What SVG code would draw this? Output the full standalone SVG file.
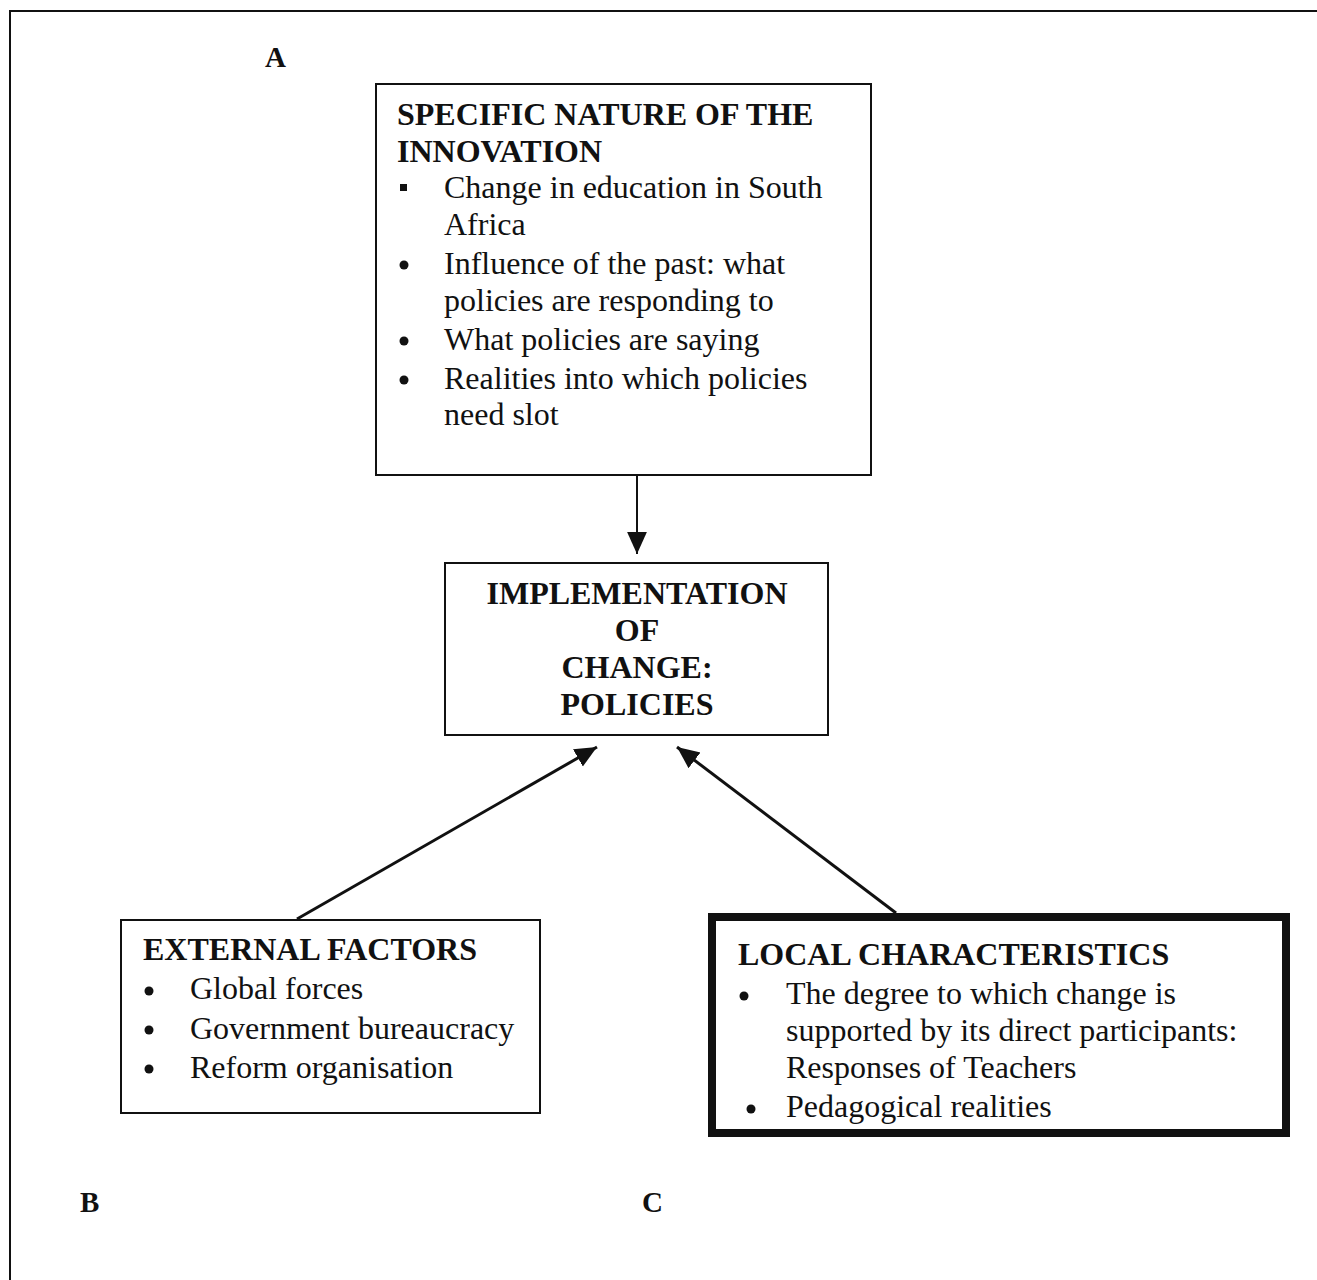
<svg xmlns="http://www.w3.org/2000/svg" width="1317" height="1280" viewBox="0 0 1317 1280">
<style>
.t{font-family:"Liberation Serif","Times New Roman",serif;font-size:32px;fill:#111}
.b{font-weight:bold}
.lbl{font-size:29px}
.box{fill:#fff;stroke:#111;stroke-width:2}
.thick{stroke-width:8}
.ln{stroke:#111;stroke-width:3;fill:none}
.bul{fill:#111}
</style>
<defs>
<marker id="ah2" viewBox="0 0 10 10" refX="10" refY="5" markerWidth="22" markerHeight="22" markerUnits="userSpaceOnUse" orient="auto">
<path d="M0,0.5 L10,5 L0,9.5 Z" fill="#111"/>
</marker>
</defs>
<rect width="1317" height="1280" fill="#fff"/>
<path d="M10,1280 L10,11 L1317,11" fill="none" stroke="#111" stroke-width="2"/>
<text class="t b lbl" x="265" y="67">A</text>
<text class="t b lbl" x="80" y="1212">B</text>
<text class="t b lbl" x="642" y="1212">C</text>

<g id="connectors">
<line class="ln" x1="637" y1="476" x2="637" y2="554" style="stroke-width:2" marker-end="url(#ah2)"/>
<line class="ln" x1="297" y1="919" x2="597" y2="747" marker-end="url(#ah2)"/>
<line class="ln" x1="896" y1="913" x2="677" y2="747" marker-end="url(#ah2)"/>
</g>

<g id="node-innovation">
<rect class="box" x="376" y="84" width="495" height="391"/>
<text class="t b" x="397" y="125">SPECIFIC NATURE OF THE</text>
<text class="t b" x="397" y="162">INNOVATION</text>
<rect class="bul" x="400" y="184" width="7" height="7"/>
<text class="t" x="444" y="198">Change in education in South</text>
<text class="t" x="444" y="235">Africa</text>
<circle class="bul" cx="404" cy="265" r="4.5"/>
<text class="t" x="444" y="274">Influence of the past: what</text>
<text class="t" x="444" y="311">policies are responding to</text>
<circle class="bul" cx="404" cy="341" r="4.5"/>
<text class="t" x="444" y="350">What policies are saying</text>
<circle class="bul" cx="404" cy="380" r="4.5"/>
<text class="t" x="444" y="389">Realities into which policies</text>
<text class="t" x="444" y="425">need slot</text>
</g>

<g id="node-implementation">
<rect class="box" x="445" y="563" width="383" height="172"/>
<text class="t b" x="637" y="604" text-anchor="middle">IMPLEMENTATION</text>
<text class="t b" x="637" y="641" text-anchor="middle">OF</text>
<text class="t b" x="637" y="678" text-anchor="middle">CHANGE:</text>
<text class="t b" x="637" y="715" text-anchor="middle">POLICIES</text>
</g>

<g id="node-external">
<rect class="box" x="121" y="920" width="419" height="193"/>
<text class="t b" x="143" y="960">EXTERNAL FACTORS</text>
<circle class="bul" cx="149" cy="991" r="4.5"/>
<text class="t" x="190" y="999">Global forces</text>
<circle class="bul" cx="149" cy="1030" r="4.5"/>
<text class="t" x="190" y="1039">Government bureaucracy</text>
<circle class="bul" cx="149" cy="1069" r="4.5"/>
<text class="t" x="190" y="1078">Reform organisation</text>
</g>

<g id="node-local">
<rect class="box thick" x="712" y="917" width="574" height="216"/>
<text class="t b" x="738" y="965">LOCAL CHARACTERISTICS</text>
<circle class="bul" cx="744" cy="996" r="4.5"/>
<text class="t" x="786" y="1004">The degree to which change is</text>
<text class="t" x="786" y="1041">supported by its direct participants:</text>
<text class="t" x="786" y="1078">Responses of Teachers</text>
<circle class="bul" cx="751" cy="1109" r="4.5"/>
<text class="t" x="786" y="1117">Pedagogical realities</text>
</g>
</svg>
